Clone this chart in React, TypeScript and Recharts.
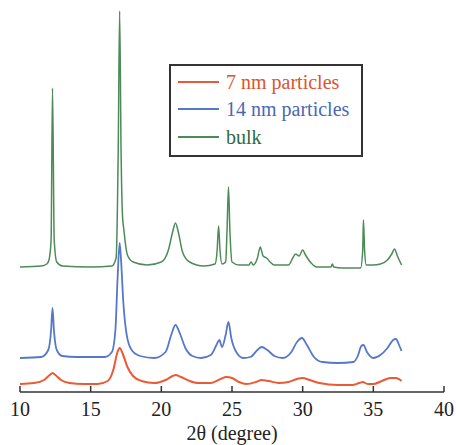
import React from 'react';
import { LineChart, Line, XAxis, YAxis, Legend, Label } from 'recharts';

// 2-theta positions and stacked intensities (arbitrary units, offset per sample)
const bulkX = [10, 11.5, 11.9, 12.05, 12.2, 12.3, 12.42, 12.6, 13, 15, 16.5, 16.8, 16.95, 17.05, 17.15, 17.25, 17.35, 17.6, 18, 19, 20, 20.5, 20.8, 21, 21.2, 21.5, 22, 23, 23.8, 23.95, 24.05, 24.15, 24.3, 24.55, 24.65, 24.75, 24.85, 25, 25.5, 26.2, 26.35, 26.5, 26.8, 27, 27.2, 27.45, 27.7, 28, 29, 29.3, 29.5, 29.75, 30, 30.2, 30.6, 31, 32, 32.1, 32.2, 32.8, 34.1, 34.25, 34.3, 34.38, 34.5, 35, 35.5, 36, 36.3, 36.5, 36.7, 37];
const bulkY = [125, 126, 128, 132, 152, 304, 152, 130, 126, 125, 126, 134, 242, 381, 242, 177, 162, 137, 130, 127, 130, 142, 160, 169, 160, 140, 130, 126, 128, 142, 166, 142, 128, 130, 162, 205, 162, 130, 127, 127, 130, 127, 134, 145, 136, 134, 130, 127, 127, 134, 138, 136, 142, 137, 129, 125, 125, 128, 125, 124, 124, 142, 172, 142, 127, 127, 128, 132, 138, 143, 136, 127];

const nm14X = [10, 11.5, 12, 12.2, 12.3, 12.4, 12.6, 13, 14, 15, 16, 16.5, 16.75, 16.9, 17.05, 17.15, 17.3, 17.55, 17.9, 18.5, 19.5, 20.3, 20.7, 21, 21.3, 21.7, 22.2, 22.8, 23.5, 23.9, 24.1, 24.3, 24.55, 24.75, 24.95, 25.3, 25.8, 26.3, 26.8, 27.1, 27.5, 28, 28.6, 29.2, 29.6, 29.95, 30.3, 30.8, 31.4, 32.5, 33.6, 33.9, 34.15, 34.3, 34.55, 35, 35.5, 36, 36.4, 36.6, 36.85, 37];
const nm14Y = [34, 35, 42, 62, 84, 62, 42, 36, 35, 35, 35, 40, 62, 112, 149, 132, 92, 57, 42, 36, 34, 40, 57, 67, 59, 44, 36, 34, 37, 47, 52, 45, 57, 70, 54, 40, 34, 35, 42, 45, 42, 36, 34, 40, 50, 54, 47, 35, 30, 29, 30, 36, 46, 47, 40, 34, 37, 44, 52, 53, 46, 41];

const nm7X = [10, 11, 11.7, 12.1, 12.3, 12.5, 12.9, 13.5, 14.5, 15.5, 16.2, 16.6, 16.9, 17.05, 17.3, 17.6, 18, 18.6, 19.5, 20.3, 20.8, 21, 21.4, 22, 22.6, 23.5, 24.2, 24.6, 25, 25.5, 26, 26.7, 27.1, 27.6, 28.3, 29, 29.6, 30, 30.5, 31.2, 32.5, 33.5, 34, 34.25, 34.6, 35, 35.6, 36.2, 36.6, 37];
const nm7Y = [8, 9, 12, 17, 19, 17, 12, 9, 8, 8, 11, 22, 40, 44, 37, 25, 16, 11, 9, 12, 16, 17, 15, 11, 9, 9, 13, 15, 14, 10, 8, 10, 12, 11, 9, 10, 13, 14, 12, 9, 7, 7, 9, 10, 8, 8, 11, 14, 14, 11];

const xTicks = [10, 15, 20, 25, 30, 35, 40];
const seriesNames = ['7 nm particles', '14 nm particles', 'bulk'];

const toPoints = (xs: number[], ys: number[]) => xs.map((x, i) => ({ x, v: ys[i] }));

const FONT = 'Liberation Serif, Times New Roman, Tinos, DejaVu Serif, serif';

const AxisTick = (props: any) => {
    const { x, y, payload } = props;
    return (
        <g>
            <line x1={x} y1={y} x2={x} y2={y - 6} stroke="#333" strokeWidth={1.5} />
            <text x={x} y={y + 24} textAnchor="middle" style={{ fontFamily: FONT, fontSize: 20 }} fill="#222">
                {payload.value}
            </text>
        </g>
    );
};

const textColors: Record<string, string> = {
    '7 nm particles': '#e0522d',
    '14 nm particles': '#4a68b5',
    bulk: '#2f6b3a'
};

const LegendBox = (props: any) => {
    const items = [...(props.payload || [])].sort(
        (a: any, b: any) => seriesNames.indexOf(a.value) - seriesNames.indexOf(b.value)
    );
    return (
        <div
            style={{
                boxSizing: 'border-box',
                width: 194,
                height: 93,
                border: '2px solid #333',
                background: '#fff',
                paddingTop: 2,
                paddingLeft: 7
            }}
        >
            {items.map((entry: any) => (
                <div key={entry.value} style={{ display: 'flex', alignItems: 'center', height: 27.5 }}>
                    <span style={{ display: 'inline-block', width: 41, height: 2, background: entry.color, marginRight: 7 }} />
                    <span style={{ fontFamily: FONT, fontSize: 20, color: textColors[entry.value], lineHeight: 1 }}>
                        {entry.value}
                    </span>
                </div>
            ))}
        </div>
    );
};

export default function App() {
    return (
        <div style={{ position: 'absolute', left: 0, top: 0, background: '#fff', fontFamily: FONT }}>
            <LineChart width={456} height={445} margin={{ top: 10, right: 12, left: 20, bottom: 23 }}>
                <XAxis
                    type="number"
                    dataKey="x"
                    domain={[10, 40]}
                    ticks={xTicks}
                    height={30}
                    tickSize={0}
                    tickMargin={0}
                    tick={<AxisTick />}
                    axisLine={{ stroke: '#333', strokeWidth: 1.5 }}
                    allowDuplicatedCategory={false}
                >
                    <Label
                        value="2θ (degree)"
                        position="bottom"
                        offset={4}
                        style={{ fontFamily: FONT, fontSize: 20, fill: '#222' }}
                    />
                </XAxis>
                <YAxis hide type="number" domain={[0, 382]} />
                <Legend
                    layout="vertical"
                    align="center"
                    verticalAlign="middle"
                    wrapperStyle={{ left: 169, top: 64, width: 194 }}
                    content={<LegendBox />}
                />
                <Line
                    data={toPoints(nm7X, nm7Y)}
                    dataKey="v"
                    name="7 nm particles"
                    type="monotone"
                    stroke="#ea5a34"
                    strokeWidth={2}
                    dot={false}
                    isAnimationActive={false}
                />
                <Line
                    data={toPoints(nm14X, nm14Y)}
                    dataKey="v"
                    name="14 nm particles"
                    type="monotone"
                    stroke="#5578c8"
                    strokeWidth={1.8}
                    dot={false}
                    isAnimationActive={false}
                />
                <Line
                    data={toPoints(bulkX, bulkY)}
                    dataKey="v"
                    name="bulk"
                    type="monotone"
                    stroke="#4d8a58"
                    strokeWidth={1.5}
                    dot={false}
                    isAnimationActive={false}
                />
            </LineChart>
        </div>
    );
}
